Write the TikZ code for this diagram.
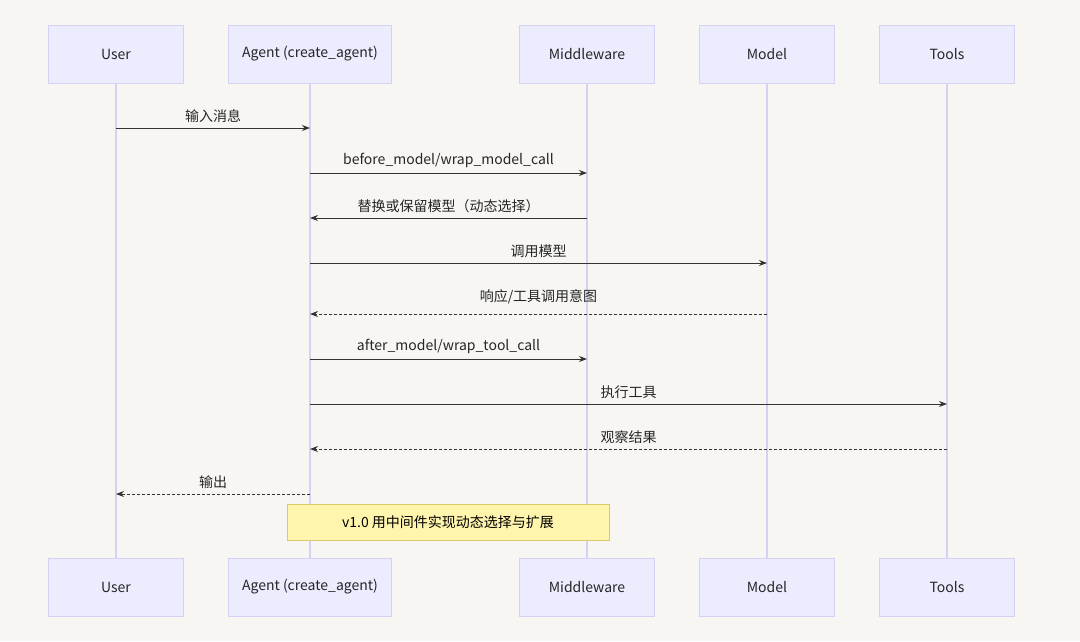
\documentclass[tikz,border=0pt]{standalone}
\usepackage{fontspec}
\setmainfont{Noto Sans CJK SC}
\usetikzlibrary{positioning,arrows.meta}
\definecolor{bgc}{HTML}{F7F6F3}
\definecolor{actfill}{HTML}{ECECFF}
\definecolor{actline}{HTML}{D6D0F5}
\definecolor{msgc}{HTML}{333333}
\definecolor{notefill}{HTML}{FFF5AD}
\definecolor{noteline}{HTML}{D9CB6A}
\begin{document}
\begin{tikzpicture}
[x=1pt,y=-1pt,font=\fontsize{14}{16}\selectfont,
actor/.style={draw=actline,fill=actfill,line width=0.8pt,minimum width=135pt,minimum height=58pt,inner sep=0pt,text=black!85},
life/.style={draw=actline,line width=1.2pt},
msg/.style={draw=msgc,line width=0.9pt,-{Stealth[length=8pt,width=6pt]}},
reply/.style={msg,dash pattern=on 3pt off 2pt},
lbl/.style={text=black!85,above=5pt,inner sep=0pt},
note/.style={draw=noteline,fill=notefill,line width=0.8pt,minimum width=322pt,minimum height=36pt,inner sep=0pt},]
\fill[bgc] (0,0) rectangle (1080,641);
\useasboundingbox (0,0) rectangle (1080,641);
%participants
\node (uT) at (116,54) [actor] {User};
\node (aT) at (310,54) [actor,minimum width=163pt] {Agent (create\_agent)};
\node (mwT) at (587,54) [actor] {Middleware};
\node (moT) at (767,54) [actor] {Model};
\node (tT) at (947,54) [actor] {Tools};
\node (uB) at (116,587) [actor] {User};
\node (aB) at (310,587) [actor,minimum width=163pt] {Agent (create\_agent)};
\node (mwB) at (587,587) [actor] {Middleware};
\node (moB) at (767,587) [actor] {Model};
\node (tB) at (947,587) [actor] {Tools};

%lifelines
\foreach \p in {u,a,mw,mo,t}
  \draw[life] (\p T.south) -- (\p B.north);

%message anchors
\foreach \p/\x in {u/116,a/310,mw/587,mo/767,t/947}
  \foreach \i/\y in {1/128,2/173,3/218,4/263,5/314,6/359,7/404,8/449,9/494}
    \coordinate (\p\i) at (\x,\y);

%messages
\draw[msg] (u1) -- node[lbl] {输入消息} (a1);
\draw[msg] (a2) -- node[lbl] {before\_model/wrap\_model\_call} (mw2);
\draw[msg] (mw3) -- node[lbl] {替换或保留模型（动态选择）} (a3);
\draw[msg] (a4) -- node[lbl] {调用模型} (mo4);
\draw[reply] (mo5) -- node[lbl,above=10pt] {响应/工具调用意图} (a5);
\draw[msg] (a6) -- node[lbl] {after\_model/wrap\_tool\_call} (mw6);
\draw[msg] (a7) -- node[lbl] {执行工具} (t7);
\draw[reply] (t8) -- node[lbl] {观察结果} (a8);
\draw[reply] (a9) -- node[lbl] {输出} (u9);

%note
\node (n) at (448,522) [note] {v1.0 用中间件实现动态选择与扩展};
\end{tikzpicture}
\end{document}
